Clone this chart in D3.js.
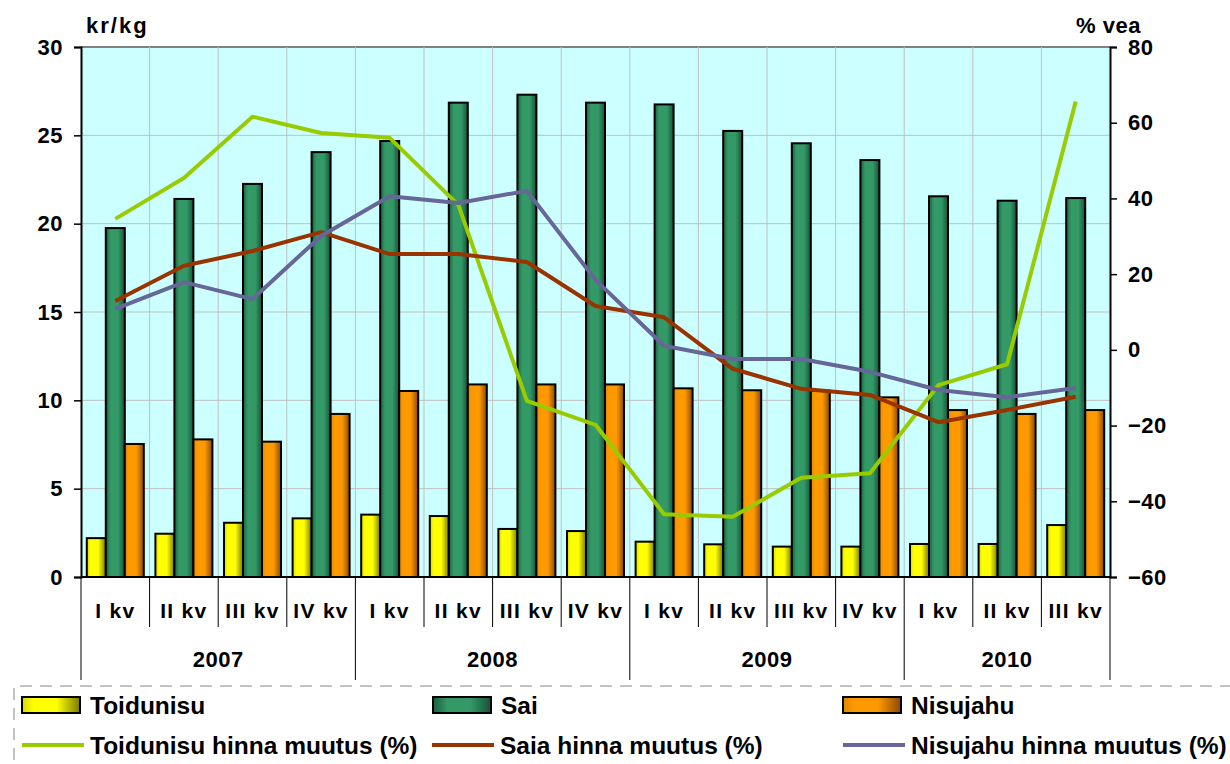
<!DOCTYPE html>
<html>
<head>
<meta charset="utf-8">
<script src="https://cdn.jsdelivr.net/npm/d3@7"></script>
<style>
  body { margin: 0; background: #fff; }
  text { font-family: "Liberation Sans", Arial, sans-serif; font-weight: bold; }
</style>
</head>
<body>
<script>
// data
const years = ["2007", "2008", "2009", "2010"];
const quarters = ["I kv","II kv","III kv","IV kv","I kv","II kv","III kv","IV kv","I kv","II kv","III kv","IV kv","I kv","II kv","III kv"];
const quarterYear = [0,0,0,0,1,1,1,1,2,2,2,2,3,3,3];

const toidunisu = [2.2, 2.45, 3.07, 3.32, 3.53, 3.45, 2.72, 2.6, 2.0, 1.85, 1.72, 1.72, 1.87, 1.87, 2.94];
const sai       = [19.75, 21.4, 22.25, 24.05, 24.68, 26.85, 27.3, 26.85, 26.75, 25.25, 24.55, 23.6, 21.55, 21.3, 21.45];
const nisujahu  = [7.53, 7.79, 7.66, 9.23, 10.53, 10.9, 10.9, 10.9, 10.68, 10.57, 10.55, 10.17, 9.45, 9.23, 9.45];

const toidunisuMuutus = [34.6, 45.4, 61.6, 57.3, 56.0, 38.3, -13.5, -19.8, -43.4, -44.1, -33.8, -32.6, -9.3, -3.8, 65.6];
const saiaMuutus      = [12.9, 22.2, 26.1, 31.1, 25.3, 25.3, 23.2, 11.6, 8.6, -5.0, -10.3, -11.9, -19.1, -15.9, -12.4];
const nisujahuMuutus  = [10.8, 17.9, 13.4, 30.1, 40.6, 38.8, 42.0, 18.5, 1.1, -2.4, -2.4, -5.8, -10.6, -12.5, -10.1];

const leftTicks = [0, 5, 10, 15, 20, 25, 30];
const rightTicks = [-60, -40, -20, 0, 20, 40, 60, 80];

const W = 1230, H = 764;
const m = { left: 81, right: 1110, top: 47, bottom: 577 };

const svg = d3.select("body").append("svg").attr("width", W).attr("height", H);
const defs = svg.append("defs");

function grad(id, stops) {
  const g = defs.append("linearGradient").attr("id", id)
    .attr("x1", "0%").attr("x2", "100%").attr("y1", "0%").attr("y2", "0%");
  stops.forEach(s => g.append("stop").attr("offset", s[0]).attr("stop-color", s[1]));
}
grad("gYellow", [["0%","#d8d800"],["20%","#ffff00"],["60%","#ffff00"],["100%","#7a7a00"]]);
grad("gGreen",  [["0%","#1c5e3e"],["25%","#339966"],["65%","#339966"],["100%","#17513a"]]);
grad("gOrange", [["0%","#e08600"],["20%","#ff9900"],["60%","#ff9900"],["100%","#8a4a00"]]);

const x = d3.scaleBand().domain(d3.range(quarters.length)).range([m.left, m.right]);
const yL = d3.scaleLinear().domain([0, 30]).range([m.bottom, m.top]);
const yR = d3.scaleLinear().domain([-60, 80]).range([m.bottom, m.top]);

// plot background
svg.append("rect").attr("x", m.left).attr("y", m.top)
  .attr("width", m.right - m.left).attr("height", m.bottom - m.top).attr("fill", "#ccffff");

// gridlines
svg.append("g").selectAll("line").data(leftTicks.slice(1))
  .join("line")
  .attr("x1", m.left).attr("x2", m.right)
  .attr("y1", d => yL(d)).attr("y2", d => yL(d))
  .attr("stroke", d => d === 30 ? "#808080" : "#c0c0c0").attr("stroke-width", d => d === 30 ? 2 : 1);
svg.append("g").selectAll("line").data(d3.range(1, quarters.length))
  .join("line")
  .attr("x1", d => x(d)).attr("x2", d => x(d))
  .attr("y1", m.top).attr("y2", m.bottom)
  .attr("stroke", "#c0c0c0").attr("stroke-width", 1);

// bars
const bw = 19;
const series = [
  { vals: toidunisu, fill: "url(#gYellow)" },
  { vals: sai, fill: "url(#gGreen)" },
  { vals: nisujahu, fill: "url(#gOrange)" }
];
series.forEach((s, si) => {
  svg.append("g").selectAll("rect").data(s.vals)
    .join("rect")
    .attr("x", (d, i) => x(i) + x.bandwidth() / 2 - 1.5 * bw + si * bw)
    .attr("y", d => yL(d))
    .attr("width", bw)
    .attr("height", d => yL(0) - yL(d))
    .attr("fill", s.fill)
    .attr("stroke", "#000").attr("stroke-width", 2);
});

// lines
const lineSeries = [
  { vals: toidunisuMuutus, color: "#99cc00" },
  { vals: saiaMuutus, color: "#993300" },
  { vals: nisujahuMuutus, color: "#666699" }
];
const line = d3.line().x((d, i) => x(i) + x.bandwidth() / 2).y(d => yR(d));
lineSeries.forEach(s => {
  svg.append("path").datum(s.vals).attr("d", line)
    .attr("fill", "none").attr("stroke", s.color).attr("stroke-width", 4)
    .attr("stroke-linejoin", "round");
});

// left axis
const axL = svg.append("g").attr("transform", `translate(${m.left},0)`)
  .call(d3.axisLeft(yL).tickValues(leftTicks).tickSize(7).tickPadding(11));
axL.select(".domain").attr("stroke", "#000").attr("stroke-width", 2);
axL.selectAll(".tick line").attr("stroke", "#000").attr("stroke-width", 1.5);
axL.selectAll(".tick text").attr("font-size", 22).attr("font-family", "Liberation Sans, Arial, sans-serif")
  .attr("font-weight", "bold").attr("fill", "#000").attr("letter-spacing", 0.5);

// right axis
const axR = svg.append("g").attr("transform", `translate(${m.right},0)`)
  .call(d3.axisRight(yR).tickValues(rightTicks).tickSize(7).tickPadding(11));
axR.select(".domain").attr("stroke", "#000").attr("stroke-width", 2);
axR.selectAll(".tick line").attr("stroke", "#000").attr("stroke-width", 1.5);
axR.selectAll(".tick text").attr("font-size", 22).attr("font-family", "Liberation Sans, Arial, sans-serif")
  .attr("font-weight", "bold").attr("fill", "#000").attr("letter-spacing", 0.5);

// axis titles
svg.append("text").attr("x", 86).attr("y", 33).attr("font-size", 22).attr("letter-spacing", 2).text("kr/kg");
svg.append("text").attr("x", 1076).attr("y", 33).attr("font-size", 22).attr("letter-spacing", 0.5).text("% vea");

// category axis
svg.append("line").attr("x1", m.left).attr("x2", m.right).attr("y1", m.bottom).attr("y2", m.bottom)
  .attr("stroke", "#000").attr("stroke-width", 2);
const yearStart = new Set(years.map((y, yi) => quarterYear.indexOf(yi)));
const seps = d3.range(0, quarters.length + 1);
svg.append("g").selectAll("line").data(seps)
  .join("line")
  .attr("x1", d => d < quarters.length ? x(d) : m.right)
  .attr("x2", d => d < quarters.length ? x(d) : m.right)
  .attr("y1", m.bottom)
  .attr("y2", d => (yearStart.has(d) || d === quarters.length) ? 680 : 627)
  .attr("stroke", "#000").attr("stroke-width", 1);
svg.append("g").selectAll("text").data(quarters)
  .join("text")
  .attr("x", (d, i) => x(i) + x.bandwidth() / 2)
  .attr("y", 618).attr("text-anchor", "middle").attr("font-size", 21).attr("letter-spacing", 1.3)
  .text(d => d);
svg.append("g").selectAll("text").data(years)
  .join("text")
  .attr("x", (d, yi) => {
    const idx = quarterYear.map((q, i) => q === yi ? i : -1).filter(i => i >= 0);
    return (x(idx[0]) + x(idx[idx.length - 1]) + x.bandwidth()) / 2;
  })
  .attr("y", 667).attr("text-anchor", "middle").attr("font-size", 22).attr("letter-spacing", 0.5)
  .text(d => d);

// legend frame (dashed)
svg.append("path").attr("d", "M1232,686 H14 V766")
  .attr("fill", "none").attr("stroke", "#b0b0b0").attr("stroke-width", 1.5)
  .attr("stroke-dasharray", "12,8");

// legend
const legendBars = [
  { label: "Toidunisu", fill: "url(#gYellow)", x: 22 },
  { label: "Sai", fill: "url(#gGreen)", x: 433 },
  { label: "Nisujahu", fill: "url(#gOrange)", x: 843 }
];
const legendLines = [
  { label: "Toidunisu hinna muutus (%)", color: "#99cc00", x: 22 },
  { label: "Saia hinna muutus (%)", color: "#993300", x: 432 },
  { label: "Nisujahu hinna muutus (%)", color: "#666699", x: 843 }
];
const lb = svg.append("g").selectAll("g").data(legendBars).join("g")
  .attr("transform", d => `translate(${d.x},697)`);
lb.append("rect").attr("width", 58).attr("height", 16).attr("fill", d => d.fill)
  .attr("stroke", "#000").attr("stroke-width", 2);
lb.append("text").attr("x", 68).attr("y", 17).attr("font-size", 24.5).text(d => d.label);

const ll = svg.append("g").selectAll("g").data(legendLines).join("g")
  .attr("transform", d => `translate(${d.x},745)`);
ll.append("line").attr("x1", 0).attr("x2", 62).attr("stroke", d => d.color).attr("stroke-width", 4);
ll.append("text").attr("x", 68).attr("y", 9).attr("font-size", 24.5).text(d => d.label);
</script>
</body>
</html>
